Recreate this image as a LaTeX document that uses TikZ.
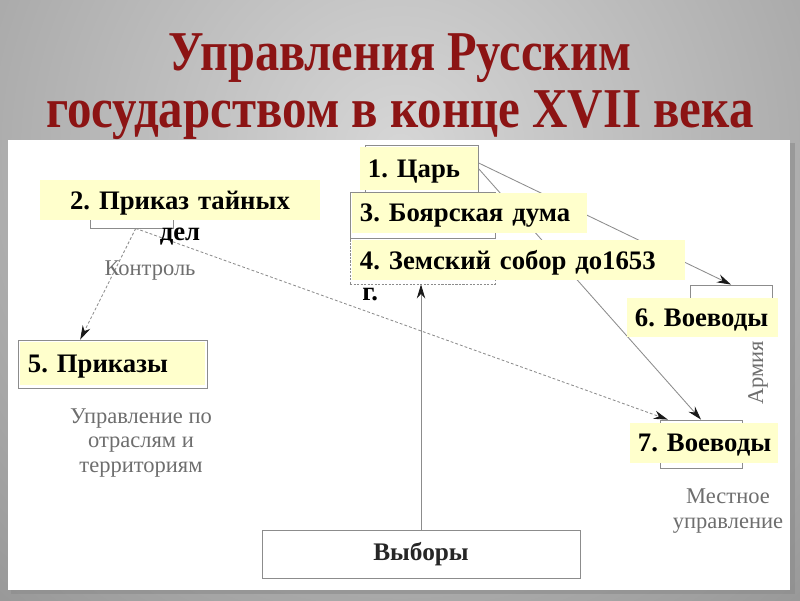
\documentclass[tikz,border=0pt]{standalone}
\usepackage{fontspec}
\setmainfont{Liberation Serif}
\usepackage{tikz}
\usetikzlibrary{arrows.meta,positioning,calc}
\usepackage{xcolor}
\definecolor{titlered}{HTML}{8C1414}
\definecolor{lblyellow}{HTML}{FFFFCC}
\definecolor{notegray}{HTML}{6E6E6E}
\definecolor{linegray}{HTML}{8C8C8C}
\frenchspacing

\tikzset{
    outl/.style={draw=linegray, line width=0.6pt, inner sep=0pt},
    lbl/.style={fill=lblyellow, inner xsep=0.2cm, inner ysep=0pt, align=left, text depth=0pt,
        font=\fontsize{19}{22}\selectfont\bfseries, text=black},
    lbltext/.style={font=\fontsize{19}{22}\selectfont\bfseries, text=black, inner sep=0pt},
    note/.style={text=notegray, align=center, font=\fontsize{16}{17.5}\selectfont},
    titletext/.style={text=titlered, font=\fontsize{40}{44}\selectfont\bfseries, anchor=base},
    conn/.style={draw=linegray, line width=0.6pt, -{Stealth[length=10pt, width=6pt, color=black!90]}},
    dconn/.style={conn, dash pattern=on 2pt off 1.5pt}
}

\begin{document}
\begin{tikzpicture}[x=0.025cm, y=-0.025cm]
    \useasboundingbox (0,0) rectangle (800,600);

    % фон
    \begin{scope}
        \clip (0,0) rectangle (800,600);
        \shade[inner color=black!16, outer color=black!52] (400,150) circle (900);
    \end{scope}
    \fill[black!45, opacity=0.6] (11,143) rectangle (795,594);
    \fill[white] (8,140) rectangle (790,590);

    % заголовок
    \node[titletext] (titleA) at (400,70) {\scalebox{0.86}[1]{Управления Русским}};
    \node[titletext] (titleB) at (400,127) {\scalebox{0.87}[1]{государством в конце XVII века}};

    % рамки схемы
    \node[outl, minimum width=2.825cm, minimum height=1.175cm] (tsarbox) at (421.5,168.5) {};
    \node[outl, minimum width=3.625cm, minimum height=1.15cm] (boyarbox) at (422.5,215) {};
    \node[outl, dash pattern=on 1.5pt off 1pt, minimum width=3.625cm, minimum height=1.15cm] (zembox) at (422.5,261) {};
    \node[outl, minimum width=2.075cm, minimum height=1.15cm] (tainbox) at (131.5,205) {};
    \node[outl, minimum width=4.725cm, minimum height=1.2cm] (prikbox) at (112.5,364) {};
    \node[outl, minimum width=2.05cm, minimum height=1.2cm] (voevAbox) at (731,309) {};
    \node[outl, minimum width=2.05cm, minimum height=1.2cm] (voevBbox) at (701,444) {};
    \node[outl, minimum width=7.95cm, minimum height=1.2cm,
        font=\fontsize{18}{20}\selectfont\bfseries, text=black!85] (vybory) at (421,554) {Выборы};

    % стрелки
    \draw[conn] ([yshift=4pt]tsarbox.east) -- (voevAbox.north);
    \draw[conn] (tsarbox.east) -- (voevBbox.north);
    \draw[conn] (vybory.north) -- (vybory.north |- zembox.south);
    \draw[dconn] ([xshift=3pt]tainbox.south) -- ($(prikbox.north west)!0.33!(prikbox.north east)$);
    \draw[dconn] ([xshift=3pt]tainbox.south) -- ($(voevBbox.north west)!0.1!(voevBbox.north east)$);

    % подписи
    \node[note] (kontrol) at (150,271) {Контроль};
    \node[note] (otrasli) at (141,443) {Управление по\\отраслям и\\территориям};
    \node[note, rotate=90] (armiya) at (758,373) {Армия};
    \node[note] (mestnoe) at (728,511) {Местное\\управление};

    % жёлтые метки
    \node[lbl, text width=2.55cm, minimum height=1.075cm] (tsar) at (419,168.5) {1.~Царь};
    \node[lbl, text width=5.475cm, minimum height=1cm] (boyar) at (469.5,213) {3.~Боярская~дума};
    \node[lbl, text width=7.925cm, minimum height=1cm] (zemsky) at (518.5,260) {4.~Земский~собор~до1653};
    \node[lbltext, anchor=base west] (zemskyg) at (362,300) {г.};
    \node[lbl, text width=6.6cm, minimum height=1cm, align=center] (tain) at (180,200) {2.~Приказ~тайных};
    \node[lbltext, anchor=base] (taindel) at (180,240) {дел};
    \node[lbl, text width=4.225cm, minimum height=1.075cm] (prikazy) at (112.5,363.5) {5.~Приказы};
    \node[lbl, text width=3.375cm, minimum height=0.975cm] (voevA) at (702.5,317.5) {6.~Воеводы};
    \node[lbl, text width=3.3cm, minimum height=1cm] (voevB) at (704,443) {7.~Воеводы};
\end{tikzpicture}
\end{document}
